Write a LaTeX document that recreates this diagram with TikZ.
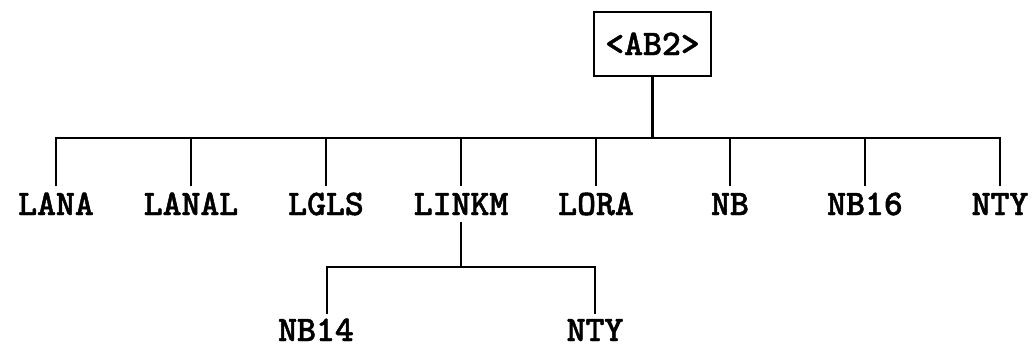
\documentclass[tikz,border=0pt]{standalone}
\usepackage{fontspec}
\newfontfamily\courb{lmmonolt10-bold.otf}[FakeBold=1.3]
\begin{document}
\begin{tikzpicture}[x=1pt,y=-1pt,line width=2.4pt,
  lbl/.style={font=\courb\fontsize{36}{36}\selectfont,anchor=base,
    text height=22pt,text depth=0pt,inner xsep=2pt,inner ysep=5.5pt},
  rootbox/.style={draw,line width=2.4pt,font=\courb\fontsize{36}{36}\selectfont,
    minimum width=117pt,minimum height=64pt,inner sep=0pt,text height=22pt,text depth=0pt}]
\useasboundingbox (0,0) rectangle (1036,348);
\node[rootbox] (root) at (652.5,44) {<AB2>};
\coordinate (bar) at (0,138);
\coordinate (subbar) at (0,267);
\node[lbl] (c1) at (56,215) {LANA};
\node[lbl] (c2) at (191,215) {LANAL};
\node[lbl] (c3) at (326,215) {LGLS};
\node[lbl] (c4) at (461,215) {LINKM};
\node[lbl] (c5) at (596,215) {LORA};
\node[lbl] (c6) at (730,215) {NB};
\node[lbl] (c7) at (865,215) {NB16};
\node[lbl] (c8) at (1000,215) {NTY};
\node[lbl,inner ysep=4pt] (d1) at (316,341) {NB14};
\node[lbl,inner ysep=4pt] (d2) at (595,341) {NTY};
\draw (root.south) -- (root.south |- bar);
\draw (c1.north) -- (c1.north |- bar) -- (c8.north |- bar) -- (c8.north);
\foreach \n in {c2,c3,c4,c5,c6,c7} \draw (\n.north) -- (\n.north |- bar);
\draw (c4.south) -- (c4.south |- subbar);
\draw ([xshift=11pt]d1.north) coordinate (d1top) -- (d1top |- subbar) -- (d2.north |- subbar) -- (d2.north);
\end{tikzpicture}
\end{document}
